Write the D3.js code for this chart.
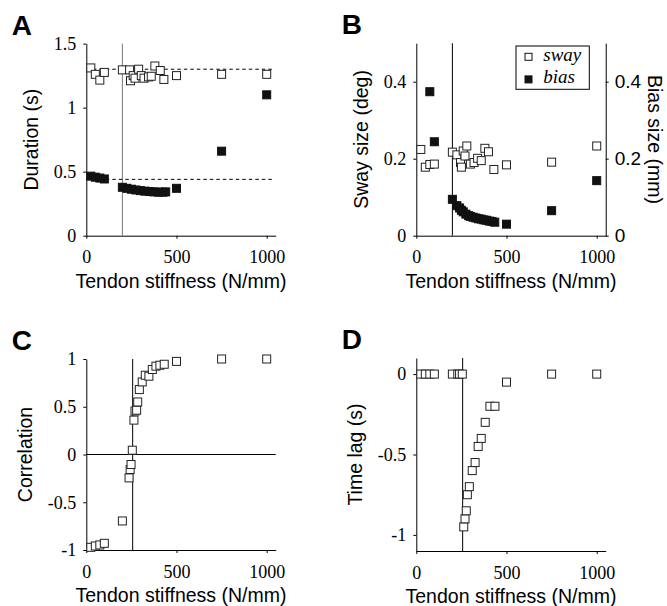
<!DOCTYPE html>
<html>
<head>
<meta charset="utf-8">
<script src="https://cdn.jsdelivr.net/npm/d3@7"></script>
<style>
body { margin: 0; background: #fff; }
.axis path, .axis line { stroke: #000; }
.ttl { font-family: "Liberation Sans", Arial, sans-serif; font-size: 19.5px; fill: #000; }
.lbl { font-family: "Liberation Sans", Arial, sans-serif; font-size: 28px; font-weight: bold; }
</style>
</head>
<body>
<script>
// 横轴：肌腱刚度 (N/mm)
var xTicks = [0, 500, 1000];

// A 持续时间
var aSwayX = [25, 50, 75, 100, 200, 240, 245, 260, 270, 290, 305, 320, 345, 360, 380, 410, 430, 500, 750, 1000];
var aSwayY = [1.31, 1.26, 1.215, 1.275, 1.295, 1.295, 1.21, 1.25, 1.23, 1.30, 1.25, 1.23, 1.24, 1.245, 1.325, 1.29, 1.22, 1.25, 1.26, 1.26];
var aBiasX = [25, 50, 75, 100, 200, 225, 250, 275, 300, 325, 350, 375, 400, 425, 440, 500, 750, 1000];
var aBiasY = [0.465, 0.457, 0.45, 0.443, 0.378, 0.37, 0.363, 0.357, 0.352, 0.348, 0.345, 0.342, 0.34, 0.34, 0.342, 0.37, 0.66, 1.10];
var aDash = [1.3, 0.44];
var aYTicks = [0, 0.5, 1, 1.5];

// B 摆动/偏置大小
var bSwayX = [25, 50, 75, 100, 200, 225, 245, 250, 260, 270, 280, 300, 320, 340, 360, 380, 400, 430, 500, 750, 1000];
var bSwayY = [0.224, 0.178, 0.185, 0.186, 0.217, 0.21, 0.19, 0.178, 0.22, 0.207, 0.233, 0.186, 0.19, 0.201, 0.195, 0.227, 0.218, 0.172, 0.184, 0.191, 0.233];
var bBiasX = [75, 100, 200, 225, 240, 250, 260, 275, 290, 300, 315, 330, 345, 360, 375, 390, 405, 420, 435, 500, 750, 1000];
var bBiasY = [0.374, 0.244, 0.0945, 0.078, 0.072, 0.066, 0.062, 0.056, 0.052, 0.05, 0.048, 0.046, 0.044, 0.043, 0.041, 0.04, 0.038, 0.037, 0.035, 0.030, 0.065, 0.143];
var bYTicks = [0, 0.2, 0.4];
var legendNames = ["sway", "bias"];

// C 相关系数
var cX = [25, 50, 75, 100, 200, 237, 243, 248, 255, 264, 270, 279, 285, 294, 310, 327, 347, 366, 386, 408, 432, 500, 750, 1000];
var cY = [-0.972, -0.958, -0.947, -0.93, -0.696, -0.245, -0.157, -0.105, 0.045, 0.36, 0.455, 0.464, 0.55, 0.68, 0.76, 0.83, 0.82, 0.89, 0.925, 0.935, 0.945, 0.975, 1.0, 1.0];
var cYTicks = [-1, -0.5, 0, 0.5, 1];

// D 时间滞后
var dX = [25, 50, 75, 100, 200, 230, 240, 255, 263, 270, 277, 283, 294, 310, 326, 343, 360, 382, 408, 436, 500, 750, 1000];
var dY = [0, 0, 0, 0, 0, 0, 0, 0, -0.95, -0.9, -0.85, -0.75, -0.7, -0.6, -0.55, -0.45, -0.4, -0.3, -0.2, -0.2, -0.05, 0, 0];
var dYTicks = [-1, -0.5, 0];

// 竖线位置
var vLineAB = 200, vLineCD = 257;

var SERIF = '"Liberation Serif", "Times New Roman", serif';
var SANS = '"Liberation Sans", Arial, sans-serif';

var svg = d3.select("body").append("svg").attr("width", 667).attr("height", 606);

var fmt = function (d) { return String(d); };

// 轴的字体直接写在属性上，覆盖d3默认的sans-serif 10px
function styleAxis(sel, fam, size) {
    sel.attr("font-family", fam).attr("font-size", size);
    sel.selectAll(".tick text").attr("fill", "#000");
}

/** 建一个分图：返回 x,y 比例尺和分组 */
function panel(left, yDomain, yRange, yt, letter, title, titleOff) {
    var x = d3.scaleLinear().domain([0, 1050]).range([left, left + 1050 * 0.1804]);
    var y = d3.scaleLinear().domain(yDomain).range(yRange);
    var g = svg.append("g");
    g.append("g").attr("class", "axis")
        .attr("transform", "translate(0," + yRange[0] + ")")
        .call(d3.axisBottom(x).tickValues(xTicks).tickFormat(fmt).tickSize(3).tickSizeOuter(0).tickPadding(12))
        .call(styleAxis, SERIF, 18);
    g.append("g").attr("class", "axis")
        .attr("transform", "translate(" + left + ",0)")
        .call(d3.axisLeft(y).tickValues(yt).tickFormat(fmt).tickSize(3).tickSizeOuter(0).tickPadding(7))
        .call(styleAxis, SERIF, 18);
    g.append("text").attr("class", "ttl")
        .attr("x", x(525)).attr("y", yRange[0] + 52)
        .attr("text-anchor", "middle").text("Tendon stiffness (N/mm)");
    g.append("text").attr("class", "ttl")
        .attr("transform", "translate(" + (left - titleOff) + "," + (yRange[0] + yRange[1]) / 2 + ") rotate(-90)")
        .attr("text-anchor", "middle").text(title);
    g.append("text").attr("class", "lbl")
        .attr("x", left - 74.5).attr("y", yRange[1] - 9).text(letter);
    return {x: x, y: y, g: g};
}

function squares(p, xs, ys, filled, s) {
    s = s || 8;
    p.g.append("g").selectAll("rect").data(xs).join("rect")
        .attr("x", function (d) { return p.x(d) - s / 2; })
        .attr("y", function (d, i) { return p.y(ys[i]) - s / 2; })
        .attr("width", s).attr("height", s)
        .attr("fill", filled ? "#111" : "#fff")
        .attr("stroke", filled ? "#111" : "#222").attr("stroke-width", 1);
}

function vline(p, v, col) {
    var d = p.y.domain();
    p.g.append("line").attr("x1", p.x(v)).attr("x2", p.x(v))
        .attr("y1", p.y(d[0])).attr("y2", p.y(d[1]))
        .attr("stroke", col || "#000").attr("stroke-width", 1);
}

// ---- A ----
var A = panel(86.3, [0, 1.5], [235.7, 43.6], aYTicks, "A", "Duration (s)", 48);
vline(A, vLineAB, "#777");
aDash.forEach(function (v) {
    A.g.append("line").attr("x1", A.x(0)).attr("x2", A.x(1030))
        .attr("y1", A.y(v)).attr("y2", A.y(v))
        .attr("stroke", "#000").attr("stroke-dasharray", "3.5,3");
});
squares(A, aBiasX, aBiasY, true);
squares(A, aSwayX, aSwayY, false);

// ---- B ----
var B = panel(416.3, [0, 0.5], [235.7, 43.2], bYTicks, "B", "Sway size (deg)", 48);
vline(B, vLineAB);
B.g.append("g").attr("class", "axis")
    .attr("transform", "translate(" + B.x(1050) + ",0)")
    .call(d3.axisRight(B.y).tickValues(bYTicks).tickFormat(fmt).tickSize(3).tickSizeOuter(0).tickPadding(6))
    .call(styleAxis, SANS, 19);
B.g.append("text").attr("class", "ttl")
    .attr("transform", "translate(" + (B.x(1050) + 42) + "," + (235.7 + 43.2) / 2 + ") rotate(90)")
    .attr("text-anchor", "middle").text("Bias size (mm)");
squares(B, bBiasX, bBiasY, true);
squares(B, bSwayX, bSwayY, false);
// 图例
var leg = B.g.append("g").attr("transform", "translate(516,46)");
leg.append("rect").attr("width", 73.3).attr("height", 43.3).attr("fill", "#fff").attr("stroke", "#000");
legendNames.forEach(function (n, i) {
    leg.append("rect").attr("x", 9).attr("y", 7.3 + i * 22.6).attr("width", 7).attr("height", 7)
        .attr("fill", i ? "#111" : "#fff").attr("stroke", "#111");
    leg.append("text").attr("x", 27.3).attr("y", 14.5 + i * 22.6)
        .attr("font-family", SERIF).attr("font-style", "italic").attr("font-size", 19)
        .text(n);
});

// ---- C ----
var C = panel(86.3, [-1, 1], [550, 359], cYTicks, "C", "Correlation", 54.5);
C.g.append("line").attr("x1", C.x(0)).attr("x2", C.x(1050))
    .attr("y1", C.y(0)).attr("y2", C.y(0)).attr("stroke", "#000");
vline(C, vLineCD);
squares(C, cX, cY, false);

// ---- D ----
var D = panel(416.3, [-1.1, 0.1], [551, 358], dYTicks, "D", "Time lag (s)", 54.5);
vline(D, vLineCD);
squares(D, dX, dY, false);
</script>
</body>
</html>
